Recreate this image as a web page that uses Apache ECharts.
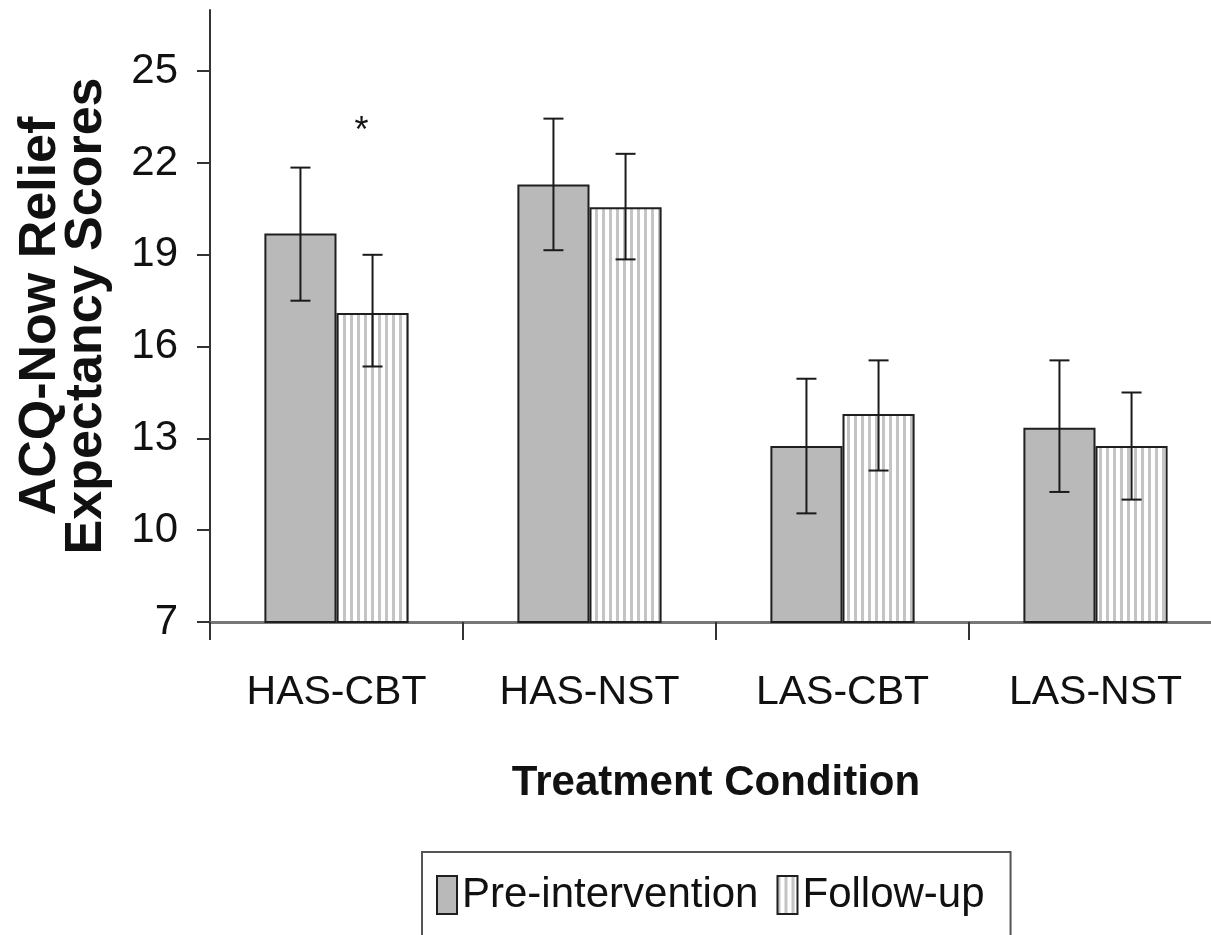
<!DOCTYPE html>
<html>
<head>
<meta charset="utf-8">
<script src="https://cdn.jsdelivr.net/npm/echarts@6/dist/echarts.min.js"></script>
<style>
html,body{margin:0;padding:0;background:#fff;}
#chart{width:1211px;height:935px;}
</style>
</head>
<body>
<div id="chart"></div>
<script>
// ---- data ----
const categories = ['HAS-CBT', 'HAS-NST', 'LAS-CBT', 'LAS-NST'];
const seriesNames = ['Pre-intervention', 'Follow-up'];
const preMean = [19.7, 21.3, 12.75, 13.35];
const preLow = [17.5, 19.15, 10.55, 11.25];
const preHigh = [21.85, 23.45, 14.95, 15.55];
const followMean = [17.1, 20.55, 13.8, 12.75];
const followLow = [15.35, 18.85, 11.95, 11.0];
const followHigh = [19.0, 22.3, 15.55, 14.5];
const followAnnot = ['*', '', '', ''];
const annotValue = 23.0;
const yTicks = [7, 10, 13, 16, 19, 22, 25];
const yMin = 7, yMax = 27;
const xTitle = 'Treatment Condition';
const yTitle = 'ACQ-Now Relief\nExpectancy Scores';

// ---- styles ----
const FONT = "'Liberation Sans',Arial,sans-serif";
const BARW = 0.285;

function stripeCanvas() {
  const c = document.createElement('canvas');
  c.width = 7; c.height = 8;
  const g = c.getContext('2d');
  g.fillStyle = '#ffffff'; g.fillRect(0, 0, 7, 8);
  g.fillStyle = '#c4c4c4'; g.fillRect(0, 0, 3, 8);
  return c;
}

const chart = echarts.init(document.getElementById('chart'), null, {renderer: 'canvas'});

function errRender(side, annots) {
  return function (params, api) {
    const idx = api.value(0);
    const lo = api.coord([idx, api.value(1)]);
    const hi = api.coord([idx, api.value(2)]);
    const band = api.size([1, 0])[0];
    const bw = band * BARW;
    const x = lo[0] + side * bw / 2;
    const cap = 10;
    const st = {stroke: '#1a1a1a', lineWidth: 2};
    const children = [
      {type: 'line', shape: {x1: x, y1: lo[1], x2: x, y2: hi[1]}, style: st},
      {type: 'line', shape: {x1: x - cap, y1: lo[1], x2: x + cap, y2: lo[1]}, style: st},
      {type: 'line', shape: {x1: x - cap, y1: hi[1], x2: x + cap, y2: hi[1]}, style: st}
    ];
    if (annots && annots[params.dataIndex]) {
      const p = api.coord([idx, annotValue]);
      children.push({type: 'text', x: x - 11, y: p[1],
        style: {text: annots[params.dataIndex], fill: '#111', font: "36px 'Liberation Sans', Arial",
          align: 'center', verticalAlign: 'middle'}});
    }
    return {type: 'group', children: children};
  };
}

const option = {
  animation: false,
  backgroundColor: '#ffffff',
  grid: {left: 210, right: -11, top: 10, bottom: 313, containLabel: false, outerBoundsMode: 'none'},
  legend: {
    data: seriesNames,
    left: 422, top: 852,
    orient: 'horizontal',
    icon: 'rect',
    borderColor: '#555', borderWidth: 2,
    padding: [22, 26, 22, 14],
    itemWidth: 20, itemHeight: 38, itemGap: 18,
    textStyle: {fontSize: 42, fontFamily: FONT, color: '#111'}
  },
  xAxis: {
    type: 'category',
    data: categories,
    name: xTitle,
    nameLocation: 'middle',
    nameGap: 140,
    nameTextStyle: {fontSize: 42, fontWeight: 'bold', fontFamily: FONT, color: '#111', verticalAlign: 'top'},
    axisLine: {lineStyle: {color: '#777', width: 3}},
    axisTick: {show: true, length: 18, lineStyle: {color: '#333', width: 2}},
    axisLabel: {interval: 0, fontSize: 41, fontFamily: FONT, color: '#111', margin: 50}
  },
  yAxis: {
    type: 'value',
    min: yMin, max: yMax, interval: 3,
    name: yTitle,
    nameLocation: 'middle',
    nameRotate: 90,
    nameGap: 100,
    nameTextStyle: {fontSize: 52, lineHeight: 46, fontWeight: 'bold', fontFamily: FONT, color: '#111', align: 'center'},
    axisLine: {show: true, lineStyle: {color: '#333', width: 2}},
    axisTick: {show: true, length: 13, lineStyle: {color: '#333', width: 2}, customValues: yTicks},
    axisLabel: {fontSize: 42, fontFamily: FONT, color: '#111', margin: 32, customValues: yTicks},
    splitLine: {show: false}
  },
  series: [
    {
      name: seriesNames[0], type: 'bar', data: preMean,
      barWidth: (BARW * 100) + '%', barGap: '0%',
      itemStyle: {color: '#b9b9b9', borderColor: '#1f1f1f', borderWidth: 2}
    },
    {
      name: seriesNames[1], type: 'bar', data: followMean,
      barWidth: (BARW * 100) + '%', barGap: '0%',
      itemStyle: {color: {image: stripeCanvas(), repeat: 'repeat'}, borderColor: '#1f1f1f', borderWidth: 2}
    },
    {
      name: 'errPre', type: 'custom', z: 10,
      renderItem: errRender(-1, null),
      encode: {x: 0, y: [1, 2]},
      data: categories.map((c, i) => [i, preLow[i], preHigh[i]])
    },
    {
      name: 'errFollow', type: 'custom', z: 10,
      renderItem: errRender(1, followAnnot),
      encode: {x: 0, y: [1, 2]},
      data: categories.map((c, i) => [i, followLow[i], followHigh[i]])
    }
  ]
};
chart.setOption(option);
</script>
</body>
</html>
